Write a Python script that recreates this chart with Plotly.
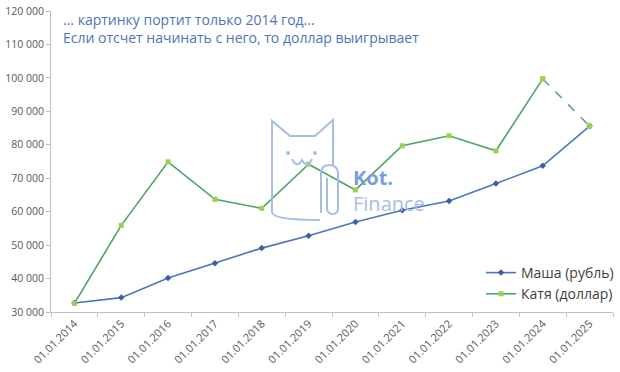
import plotly.graph_objects as go

dates = ["01.01.2014", "01.01.2015", "01.01.2016", "01.01.2017", "01.01.2018", "01.01.2019",
         "01.01.2020", "01.01.2021", "01.01.2022", "01.01.2023", "01.01.2024", "01.01.2025"]
masha = [32700, 34300, 40200, 44600, 49100, 52800, 56900, 60400, 63200, 68400, 73700, 85600]
katya = [32600, 55900, 74900, 63700, 61000, 74200, 66500, 79700, 82700, 78200, 99700, None]
katya_tail = [None] * 10 + [99700, 85600]
y_ticks = [30000, 40000, 50000, 60000, 70000, 80000, 90000, 100000, 110000, 120000]
y_labels = ["30 000", "40 000", "50 000", "60 000", "70 000", "80 000", "90 000",
            "100 000", "110 000", "120 000"]

W, H = 620, 372
L, R, T, B = 51, 7, 11, 60
PW, PH = W - L - R, H - T - B


def px(x):
    return (x - L) / PW


def py(y):
    return (H - B - y) / PH


BLUE = "#4a76bb"
GREEN = "#4ea366"
FONT = "Open Sans"

fig = go.Figure()
fig.add_trace(go.Scatter(x=dates, y=masha, name="Маша (рубль)", mode="lines+markers",
                         line=dict(color=BLUE, width=1.6),
                         marker=dict(symbol="diamond", size=5, color="#3c5ea3")))
fig.add_trace(go.Scatter(x=dates, y=katya, name="Катя (доллар)", mode="lines+markers",
                         line=dict(color=GREEN, width=1.6),
                         marker=dict(symbol="square", size=5, color="#9bd150")))
fig.add_trace(go.Scatter(x=dates, y=katya_tail, mode="lines+markers", showlegend=False,
                         line=dict(color="#6f9c8a", width=1.6, dash="dash"),
                         marker=dict(symbol="square", size=5, color="#9bd150")))

logo = "#a6bde6"
shapes = []
d = "M {},{} Q {},{} {},{} L {},{} L {},{} L {},{} L {},{} L {},{}".format(
    px(320), py(220), px(272), py(220), px(272), py(212),
    px(272), py(121), px(290), py(136), px(315), py(136), px(333), py(120), px(333), py(166))
shapes.append(dict(type="path", xref="paper", yref="paper", path=d,
                   line=dict(color=logo, width=2)))
clip = "M {},{} L {},{} Q {},{} {},{} Q {},{} {},{} L {},{} Q {},{} {},{} Q {},{} {},{} L {},{}".format(
    px(321), py(213), px(321), py(174),
    px(321), py(165), px(329), py(165),
    px(338), py(165), px(338), py(174),
    px(338), py(208),
    px(338), py(214), px(333), py(214),
    px(327), py(214), px(327), py(208),
    px(327), py(178))
shapes.append(dict(type="path", xref="paper", yref="paper", path=clip,
                   line=dict(color=logo, width=2)))
for ex in (288, 315):
    shapes.append(dict(type="circle", xref="paper", yref="paper",
                       x0=px(ex - 2), x1=px(ex + 2), y0=py(155), y1=py(151),
                       fillcolor=logo, line=dict(width=0)))
mouth = "M {},{} Q {},{} {},{} Q {},{} {},{}".format(
    px(292), py(159), px(297), py(169), px(302), py(160),
    px(307), py(169), px(312), py(159))
shapes.append(dict(type="path", xref="paper", yref="paper", path=mouth,
                   line=dict(color=logo, width=2)))

annotations = [
    dict(text="... картинку портит только 2014 год...<br>Если отсчет начинать с него, то доллар выигрывает",
         xref="paper", yref="paper", x=px(61), y=py(8), xanchor="left", yanchor="top",
         align="left", showarrow=False, font=dict(family=FONT, size=14, color="#4e74b8")),
    dict(text="<b><span style='color:#7a9edb'>Kot.</span></b><br>Finance",
         xref="paper", yref="paper", x=px(351), y=py(191),
         xanchor="left", yanchor="middle", align="left", showarrow=False,
         font=dict(family=FONT, size=20, color="#a6bde6")),
]

fig.update_layout(
    width=W, height=H, autosize=False,
    margin=dict(l=L, r=R, t=T, b=B, autoexpand=False),
    plot_bgcolor="white", paper_bgcolor="white",
    font=dict(family=FONT, color="#595959"),
    shapes=shapes, annotations=annotations,
    legend=dict(x=px(619), y=py(257), xanchor="right", yanchor="top",
                font=dict(family=FONT, size=14, color="#404040"),
                bgcolor="rgba(0,0,0,0)", traceorder="normal"),
    xaxis=dict(type="category", tickson="boundaries", ticks="outside", ticklen=4,
               tickcolor="#bfbfbf", showline=True, linecolor="#bfbfbf", linewidth=1,
               showgrid=False, tickangle=-45, tickfont=dict(size=11, color="#595959"),
               range=[-0.5, 11.5], automargin=False),
    yaxis=dict(range=[30000, 120000], tickvals=y_ticks, ticktext=y_labels,
               ticks="outside", ticklen=4, tickcolor="#bfbfbf", showline=True,
               linecolor="#bfbfbf", linewidth=1, showgrid=False, zeroline=False,
               tickfont=dict(size=10.5, color="#595959"), automargin=False),
)

fig.write_html("out.html")
